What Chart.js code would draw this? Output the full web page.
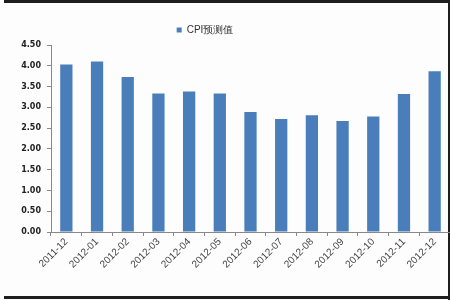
<!DOCTYPE html>
<html>
<head>
<meta charset="utf-8">
<script src="https://cdn.jsdelivr.net/npm/chart.js@4/dist/chart.umd.min.js"></script>
<style>
  html, body { margin: 0; padding: 0; background: #fff; }
  #wrap { width: 450px; height: 300px; position: relative; }
</style>
</head>
<body>
<div id="wrap"><canvas id="cpiChart"></canvas></div>
<script>
// data
const months = ['2011-12', '2012-01', '2012-02', '2012-03', '2012-04', '2012-05', '2012-06',
  '2012-07', '2012-08', '2012-09', '2012-10', '2012-11', '2012-12'];
const cpiForecast = [4.03, 4.10, 3.73, 3.33, 3.38, 3.33, 2.89, 2.72, 2.81, 2.67, 2.78, 3.32, 3.87];
const seriesName = 'CPI预测值';
const yMax = 4.5;
const yStep = 0.5;

// background + dark frame lines like the original screenshot
const frame = {
  id: 'frame',
  beforeDraw(chart) {
    const c = chart.ctx;
    c.save();
    c.fillStyle = '#fdfdfd';
    c.fillRect(0, 0, chart.width, chart.height);
    c.fillStyle = '#1e1e1e';
    c.fillRect(4, 0, chart.width - 4, 3);
    c.fillRect(4, chart.height - 4, chart.width - 4, 3);
    c.fillRect(chart.width - 2, 0, 2, chart.height);
    c.restore();
  }
};

// nudge legend a bit to the left, as in the original
const legendShift = {
  id: 'legendShift',
  afterLayout(chart) {
    if (chart.legend) {
      chart.legend.left -= 20;
      chart.legend.right -= 20;
    }
  }
};

new Chart(document.getElementById('cpiChart'), {
  type: 'bar',
  data: {
    labels: months,
    datasets: [{
      label: seriesName,
      data: cpiForecast,
      backgroundColor: '#4a7ebb',
      borderWidth: 0,
      categoryPercentage: 1,
      barPercentage: 0.4
    }]
  },
  options: {
    responsive: true,
    maintainAspectRatio: false,
    animation: false,
    layout: { padding: { top: 19, right: 0, left: 0, bottom: 0 } },
    plugins: {
      legend: {
        position: 'top',
        labels: {
          boxWidth: 5,
          boxHeight: 5,
          padding: 6,
          color: '#333',
          font: { family: 'Liberation Sans', size: 10 }
        }
      },
      tooltip: { enabled: false }
    },
    scales: {
      x: {
        grid: { drawOnChartArea: false, drawTicks: true, tickLength: 4, color: '#888' },
        border: { color: '#888' },
        ticks: {
          maxRotation: 45,
          minRotation: 45,
          autoSkip: false,
          padding: 0,
          color: '#444',
          font: { family: 'Liberation Sans', size: 10 }
        },
        afterFit(scale) { scale.height = 68; }
      },
      y: {
        min: 0,
        max: yMax,
        grid: { drawOnChartArea: false, drawTicks: true, tickLength: 4, color: '#888' },
        border: { color: '#888' },
        ticks: {
          stepSize: yStep,
          padding: 6,
          color: '#222',
          font: { family: 'DejaVu Sans', size: 8, weight: 'bold' },
          callback: v => v.toFixed(2)
        },
        afterFit(scale) { scale.width = 51; }
      }
    }
  },
  plugins: [frame, legendShift]
});
</script>
</body>
</html>
